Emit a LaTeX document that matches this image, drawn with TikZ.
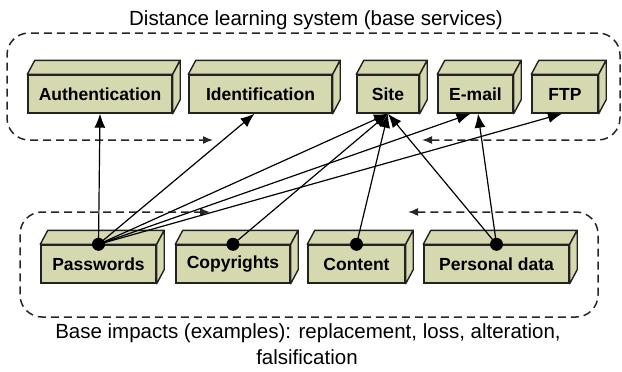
\documentclass[tikz,border=0pt]{standalone}
\usepackage{fontspec}
\setmainfont{Liberation Sans}
\usetikzlibrary{arrows.meta}
\definecolor{boxfill}{HTML}{D6D8AF}
\definecolor{edge}{HTML}{222222}
\begin{document}
\begin{tikzpicture}[x=1pt,y=-1pt,
  blk/.style={draw=edge, fill=boxfill, line width=1.4pt, inner sep=0pt,
    minimum height=38pt, font=\fontsize{17.5}{20}\selectfont\bfseries},
  face/.style={draw=edge, fill=boxfill, line width=1.4pt, line join=round},
  zone/.style={draw=black!85, line width=1.5pt, dash pattern=on 8pt off 5pt,
    rounded corners=22pt, {Latex[length=10pt,width=8pt]}-{Latex[length=10pt,width=8pt]}},
  link/.style={line width=1.2pt, -{Latex[length=14pt,width=11pt]}},
  dot/.style={circle, fill=black, inner sep=0pt, minimum size=13pt},
  caption/.style={anchor=base, font=\fontsize{20.5}{24}\selectfont}]
\useasboundingbox (0,0) rectangle (622,372);

% dashed service and impact zones
\draw[zone] (422,140) -- (620,140) -- (620,33) -- (7,33) -- (7,140) -- (213,140);
\draw[zone] (408,212) -- (598,212) -- (598,317) -- (20,317) -- (20,212) -- (210,212);

% base services
\node[blk, minimum width=144pt] (auth)  at (100,94)   {Authentication};
\node[blk, minimum width=143pt] (ident) at (260.5,94) {Identification};
\node[blk, minimum width=62pt]  (site)  at (388,94)   {Site};
\node[blk, minimum width=75pt]  (email) at (475.5,94) {E-mail};
\node[blk, minimum width=66pt]  (ftp)   at (565,94)   {FTP};

% impacted assets
\node[blk, minimum width=115pt] (pw)   at (98.5,264)  {Passwords};
\node[blk, minimum width=114pt] (copy) at (233,264)   {Copyrights};
\node[blk, minimum width=97pt]  (cont) at (356.5,264) {Content};
\node[blk, minimum width=145pt] (pers) at (496.5,264) {Personal data};

% top and side faces of the blocks
\foreach \n in {auth,ident,site,email,ftp,pw,copy,cont,pers}{
  \draw[face] (\n.north west) -- ++(7.5pt,14pt) -- ([shift={(7.5pt,14pt)}]\n.north east)
    -- (\n.north east) -- cycle;
  \draw[face] (\n.north east) -- ([shift={(7.5pt,14pt)}]\n.north east)
    -- ([shift={(7.5pt,14pt)}]\n.south east) -- (\n.south east) -- cycle;
}

% connection points
\node[dot] (pwdot)   at (pw.north)   {};
\node[dot] (copydot) at (copy.north) {};
\node[dot] (contdot) at (cont.north) {};
\node[dot] (persdot) at (pers.north) {};

% links from assets to services
\draw[link] (pwdot.center) -- (auth.south);
\draw[link] (pwdot.center) -- ([xshift=-6pt]ident.south);
\draw[link] (pwdot.center) -- (site.south);
\draw[link] (pwdot.center) -- ([xshift=-5pt]email.south);
\draw[link] (pwdot.center) -- ([xshift=-3pt]ftp.south);
\draw[link] (copydot.center) -- (site.south);
\draw[link] (contdot.center) -- (site.south);
\draw[link] (persdot.center) -- (site.south);
\draw[link] (persdot.center) -- ([xshift=2.5pt]email.south);

% captions
\node[caption] (title) at (316,26) {Distance learning system (base services)};
\node[caption] (imp1) at (308,338) {Base impacts (examples): replacement, loss, alteration,};
\node[caption] (imp2) at (307,364) {falsification};
\end{tikzpicture}
\end{document}
